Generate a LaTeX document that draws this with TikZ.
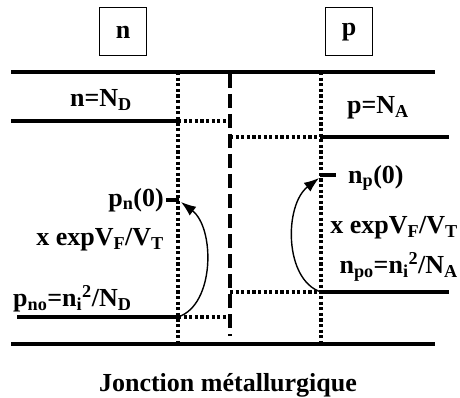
\documentclass[tikz,border=0pt]{standalone}
\usepackage{fontspec}
\setmainfont{Liberation Serif}
\usetikzlibrary{arrows.meta}
\begin{document}
\begin{tikzpicture}[x=1pt,y=-1pt,
  lab/.style={font=\fontsize{26}{30}\selectfont\bfseries, inner sep=0pt},
  boxlab/.style={lab, draw, line width=1pt, minimum width=47pt, minimum height=48pt},
  solidline/.style={line width=3.8pt},
  dotline/.style={line width=3.4pt, dash pattern=on 3.2pt off 2.4pt},
  dashline/.style={line width=3.6pt, dash pattern=on 14pt off 6pt},
  tick/.style={line width=4.5pt},
  curvearrow/.style={line width=1.4pt, -{Latex[length=15pt,width=11pt]}}]
\useasboundingbox (0,0) rectangle (460,398);
% boxes
\node[boxlab] (nbox) at (123,32) {n};
\node[boxlab] (pbox) at (349,32) {p};
% coordinates
\coordinate (TL) at (11,72);  \coordinate (TR) at (435,72);
\coordinate (BL) at (11,344); \coordinate (BR) at (435,344);
\coordinate (D1t) at (178,72); \coordinate (D1b) at (178,344);
\coordinate (D2t) at (321,72); \coordinate (D2b) at (321,344);
\coordinate (Jt) at (230,74);  \coordinate (Jb) at (230,336);
\coordinate (ND0) at (11,121);  \coordinate (ND1) at (178,121); \coordinate (ND2) at (230,121);
\coordinate (NA0) at (449,137); \coordinate (NA1) at (321,137); \coordinate (NA2) at (230,137);
\coordinate (PN0) at (17,317);  \coordinate (PN1) at (178,317); \coordinate (PN2) at (230,317);
\coordinate (NP0) at (449,292); \coordinate (NP1) at (321,292); \coordinate (NP2) at (230,292);
\coordinate (T1a) at (166,200); \coordinate (T1b) at (179,200);
\coordinate (T2a) at (320,175); \coordinate (T2b) at (336,175);
\coordinate (A1e) at (181,202);
\coordinate (A2e) at (319,178);
% main lines
\draw[solidline] (TL) -- (TR);
\draw[solidline] (BL) -- (BR);
\draw[solidline] (ND0) -- (ND1);
\draw[solidline] (NA1) -- (NA0);
\draw[solidline] (PN0) -- (PN1);
\draw[solidline] (NP1) -- (NP0);
% dotted
\draw[dotline] (D1t) -- (D1b);
\draw[dotline] (D2t) -- (D2b);
\draw[dotline] (ND1) -- (ND2);
\draw[dotline] (NA2) -- (NA1);
\draw[dotline] (PN1) -- (PN2);
\draw[dotline] (NP2) -- (NP1);
% dashed junction
\draw[dashline] (Jt) -- (Jb);
% ticks
\draw[tick] (T1a) -- (T1b);
\draw[tick] (T2a) -- (T2b);
% arrows
\draw[curvearrow] (PN1) .. controls (215,305) and (215,228) .. (A1e);
\draw[curvearrow] (NP1) .. controls (284,280) and (284,205) .. (A2e);
% labels
\node[lab] (lnd) at (101,100) {n=N\textsubscript{D}};
\node[lab] (lna) at (378,108) {p=N\textsubscript{A}};
\node[lab, anchor=east] (lpn0) at (164,200) {p\textsubscript{n}(0)};
\node[lab, anchor=east] (lx1) at (164,240) {x expV\textsubscript{F}/V\textsubscript{T}};
\node[lab, anchor=west] (lpno) at (13,299) {p\textsubscript{no}=n\textsubscript{i}\textsuperscript{2}/N\textsubscript{D}};
\node[lab, anchor=west] (lnp0) at (348,178) {n\textsubscript{p}(0)};
\node[lab, anchor=east] (lx2) at (458,228) {x expV\textsubscript{F}/V\textsubscript{T}};
\node[lab, anchor=east] (lnpo) at (458,267) {n\textsubscript{po}=n\textsubscript{i}\textsuperscript{2}/N\textsubscript{A}};
\node[lab] (ljm) at (228,385) {Jonction métallurgique};
\end{tikzpicture}
\end{document}
